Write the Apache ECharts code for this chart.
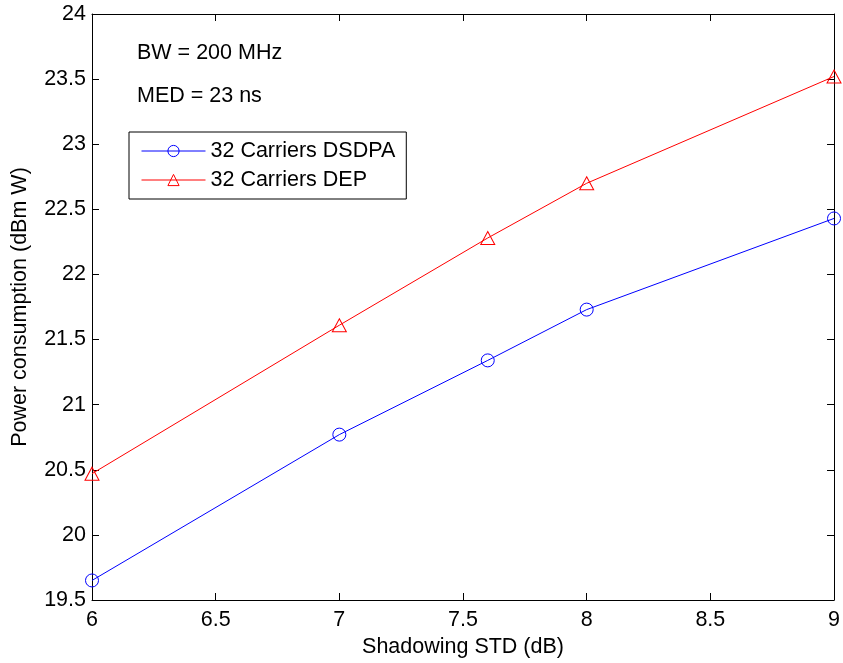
<!DOCTYPE html>
<html>
<head>
<meta charset="utf-8">
<script src="https://cdn.jsdelivr.net/npm/echarts@6/dist/echarts.min.js"></script>
<style>
html,body{margin:0;padding:0;background:#fff;}
#chart{width:843px;height:663px;}
</style>
</head>
<body>
<div id="chart"></div>
<script>
var xValues = [6, 7, 7.6, 8, 9];
var dsdpa = [19.65, 20.77, 21.34, 21.73, 22.43];
var dep = [20.47, 21.61, 22.28, 22.70, 23.52];
var seriesNames = ['32 Carriers DSDPA', '32 Carriers DEP'];
var annotations = ['BW = 200 MHz', 'MED = 23 ns'];
var xTitle = 'Shadowing STD (dB)';
var yTitle = 'Power consumption (dBm W)';

var FONT = 'Liberation Sans, Arial, Helvetica, sans-serif';
var FS = 21.5;

function pairs(xs, ys) { return xs.map(function (x, i) { return [x, ys[i]]; }); }

var chart = echarts.init(document.getElementById('chart'), null, {renderer: 'canvas'});

var axisCommon = {
  axisLine: {show: true, onZero: false, lineStyle: {color: '#000', width: 1}},
  axisTick: {show: true, inside: true, length: 7, lineStyle: {color: '#000', width: 1}},
  splitLine: {show: false}
};

var option = {
  backgroundColor: '#fff',
  animation: false,
  textStyle: {fontFamily: FONT},
  grid: {left: 92, right: 7, top: 14, bottom: 63, containLabel: false},
  legend: {
    orient: 'vertical',
    left: 129, top: 132,
    backgroundColor: '#fff',
    borderColor: '#000', borderWidth: 1,
    padding: [8, 11, 8, 12],
    itemGap: 7,
    itemWidth: 64, itemHeight: 14,
    itemStyle: {borderWidth: 1},
    lineStyle: {width: 1},
    textStyle: {fontSize: FS, color: '#000', fontFamily: FONT},
    data: seriesNames
  },
  xAxis: [
    Object.assign({
      type: 'value', min: 6, max: 9, interval: 0.5, position: 'bottom',
      name: xTitle, nameLocation: 'middle', nameGap: 32,
      nameTextStyle: {fontSize: FS, color: '#000', fontFamily: FONT},
      axisLabel: {fontSize: FS, color: '#000', margin: 9, fontFamily: FONT}
    }, axisCommon),
    Object.assign({
      type: 'value', min: 6, max: 9, interval: 0.5, position: 'top',
      axisLabel: {show: false}
    }, axisCommon)
  ],
  yAxis: [
    Object.assign({
      type: 'value', min: 19.5, max: 24, interval: 0.5, position: 'left',
      name: yTitle, nameLocation: 'middle', nameGap: 61,
      nameTextStyle: {fontSize: FS, color: '#000', fontFamily: FONT},
      axisLabel: {fontSize: FS, color: '#000', margin: 6, fontFamily: FONT}
    }, axisCommon),
    Object.assign({
      type: 'value', min: 19.5, max: 24, interval: 0.5, position: 'right',
      axisLabel: {show: false}
    }, axisCommon)
  ],
  series: [
    {
      name: seriesNames[0], type: 'line', xAxisIndex: 0, yAxisIndex: 0,
      data: pairs(xValues, dsdpa),
      symbol: 'circle', symbolSize: 13, showAllSymbol: true, clip: false,
      lineStyle: {color: '#0000ff', width: 1},
      itemStyle: {color: 'rgba(255,255,255,0)', borderColor: '#0000ff', borderWidth: 1},
      emphasis: {disabled: true}
    },
    {
      name: seriesNames[1], type: 'line', xAxisIndex: 0, yAxisIndex: 0,
      data: pairs(xValues, dep),
      symbol: 'triangle', symbolSize: [14, 13], showAllSymbol: true, clip: false,
      lineStyle: {color: '#ff0000', width: 1},
      itemStyle: {color: 'rgba(255,255,255,0)', borderColor: '#ff0000', borderWidth: 1},
      emphasis: {disabled: true}
    }
  ],
  graphic: [
    {type: 'text', left: 137, top: 42, style: {text: annotations[0], fontSize: FS, fill: '#000', fontFamily: FONT}},
    {type: 'text', left: 137, top: 85, style: {text: annotations[1], fontSize: FS, fill: '#000', fontFamily: FONT}}
  ]
};
chart.setOption(option);
</script>
</body>
</html>
